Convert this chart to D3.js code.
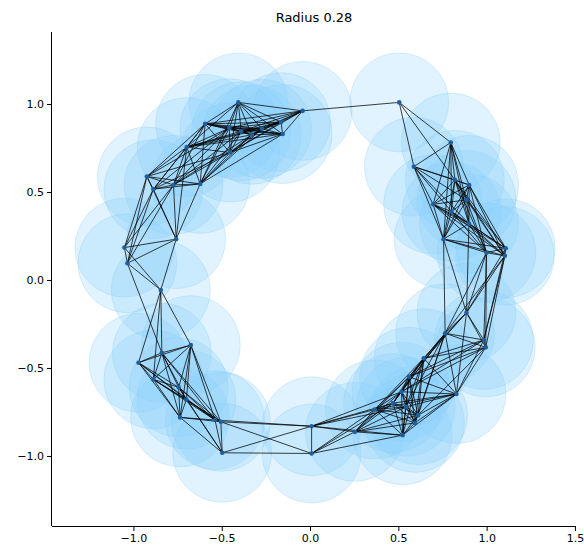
<!DOCTYPE html>
<html>
<head>
<meta charset="utf-8">
<script src="https://cdn.jsdelivr.net/npm/d3@7"></script>
<style>
  html, body { margin: 0; padding: 0; background: #fff; }
  svg { display: block; font-family: "DejaVu Sans", sans-serif; }
</style>
</head>
<body>
<svg id="chart" width="584" height="552"></svg>
<script>
// Sample points on a noisy ring (x, y)
const pointX = [
  -0.406, -0.042, -0.594, -0.164, -0.155, -0.457, -0.330, -0.272, -0.453, -0.698,
  -0.622, -0.924, -0.887, -0.773, -0.390,
  -0.758, -1.051, -1.034, -0.845,
  -0.675, -0.839, -0.971, -0.887, -0.744, -0.736, -0.538, -0.505, -0.497, -0.700,
  0.009, 0.009, 0.254, 0.367, 0.524, 0.518, 0.543, 0.612, 0.594, 0.561, 0.470,
  0.829, 0.644, 0.765, 0.886, 0.984, 0.995,
  0.505, 0.797, 0.588, 0.901, 0.820, 0.697, 0.801, 0.886, 0.756, 1.108, 1.103, 0.999, 0.900
];
const pointY = [
  1.009, 0.961, 0.887, 0.897, 0.829, 0.863, 0.825, 0.859, 0.724, 0.755,
  0.546, 0.588, 0.516, 0.540, 0.845,
  0.232, 0.184, 0.095, -0.057,
  -0.370, -0.414, -0.470, -0.565, -0.610, -0.781, -0.796, -0.806, -0.982, -0.680,
  -0.831, -0.986, -0.863, -0.736, -0.882, -0.635, -0.721, -0.768, -0.812, -0.550, -0.700,
  -0.648, -0.445, -0.303, -0.186, -0.341, -0.383,
  1.009, 0.781, 0.644, 0.540, 0.569, 0.430, 0.388, 0.455, 0.232, 0.180, 0.137, 0.155, 0.320
];
const radius = 0.28;
const xTicks = [-1.0, -0.5, 0.0, 0.5, 1.0, 1.5];
const yTicks = [-1.0, -0.5, 0.0, 0.5, 1.0];

const points = pointX.map((x, i) => ({ x, y: pointY[i] }));

// Edges join points whose balls overlap (distance within twice the radius)
const edges = [];
for (let i = 0; i < points.length; i++) {
  for (let j = i + 1; j < points.length; j++) {
    const dx = points[i].x - points[j].x, dy = points[i].y - points[j].y;
    if (Math.hypot(dx, dy) <= 2 * radius) edges.push([points[i], points[j]]);
  }
}

const svg = d3.select("#chart");
const mLeft = 52, mRight = 576, mTop = 32, mBottom = 526;

const x = d3.scaleLinear().domain([-1.461, 1.506]).range([mLeft, mRight]);
const y = d3.scaleLinear().domain([-1.398, 1.409]).range([mBottom, mTop]);
const rPx = x(radius) - x(0);

const minus = s => s.replace("-", "\u2212");
const fmt = d => minus(d3.format(".1f")(d));

const plot = svg.append("g");
plot.append("defs").append("clipPath").attr("id", "clip")
  .append("rect").attr("x", mLeft).attr("y", mTop)
  .attr("width", mRight - mLeft).attr("height", mBottom - mTop);

const body = plot.append("g").attr("clip-path", "url(#clip)");

body.append("g").selectAll("circle").data(points).join("circle")
  .attr("cx", d => x(d.x)).attr("cy", d => y(d.y)).attr("r", rPx)
  .attr("fill", "#87cefa").attr("fill-opacity", 0.25)
  .attr("stroke", "#87cefa").attr("stroke-opacity", 0.3).attr("stroke-width", 1);

body.append("g").selectAll("line").data(edges).join("line")
  .attr("x1", d => x(d[0].x)).attr("y1", d => y(d[0].y))
  .attr("x2", d => x(d[1].x)).attr("y2", d => y(d[1].y))
  .attr("stroke", "#000").attr("stroke-width", 0.75);

body.append("g").selectAll("circle").data(points).join("circle")
  .attr("cx", d => x(d.x)).attr("cy", d => y(d.y)).attr("r", 2.3)
  .attr("fill", "#1f5f9e");

const xAxis = svg.append("g").attr("transform", `translate(0,${mBottom})`)
  .call(d3.axisBottom(x).tickValues(xTicks).tickFormat(fmt).tickSize(5).tickPadding(3));
const yAxis = svg.append("g").attr("transform", `translate(${mLeft},0)`)
  .call(d3.axisLeft(y).tickValues(yTicks).tickFormat(fmt).tickSize(5).tickPadding(3));

[xAxis, yAxis].forEach(a => {
  a.select(".domain").attr("stroke", "#000").attr("stroke-width", 1);
  a.selectAll(".tick line").attr("stroke", "#000").attr("stroke-width", 1);
  a.selectAll(".tick text").attr("fill", "#000")
    .style("font-size", "11px").style("font-family", "DejaVu Sans, sans-serif");
});
xAxis.select(".domain").attr("d", `M${mLeft},0.5H${mRight}`);
yAxis.select(".domain").attr("d", `M-0.5,${mBottom}V${mTop}`);

svg.append("text").attr("x", (mLeft + mRight) / 2).attr("y", 22)
  .attr("text-anchor", "middle").style("font-size", "13px")
  .style("font-family", "DejaVu Sans, sans-serif").attr("fill", "#000")
  .text("Radius 0.28");
</script>
</body>
</html>
